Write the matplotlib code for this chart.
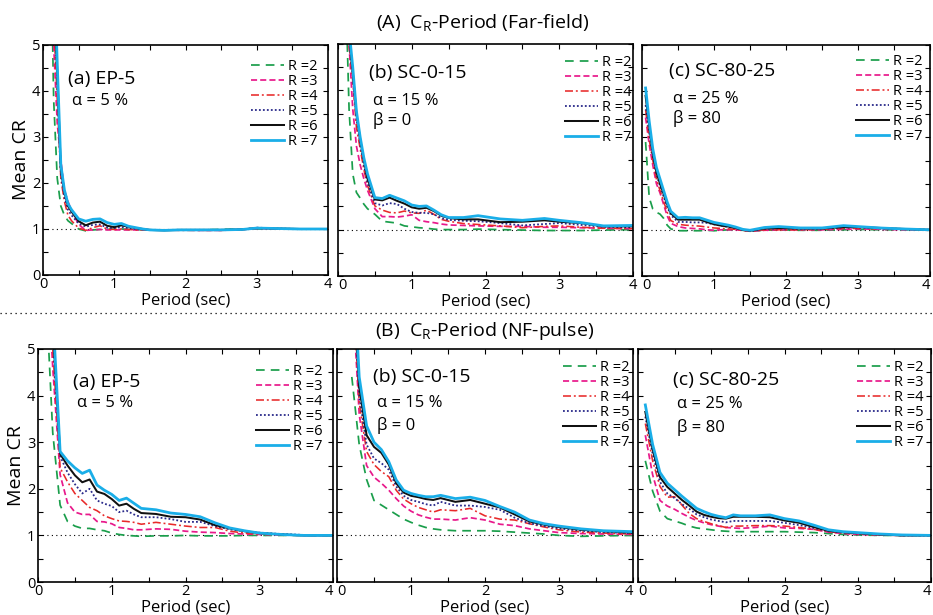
import numpy as np
import matplotlib
matplotlib.use("Agg")
import matplotlib.pyplot as plt
from matplotlib.ticker import MultipleLocator
from matplotlib.lines import Line2D

plt.rcParams['font.family'] = ['Open Sans', 'DejaVu Sans']
plt.rcParams['mathtext.fontset'] = 'custom'
plt.rcParams['mathtext.rm'] = 'Open Sans'

# ---------------- data ----------------
r_labels = ["R =2", "R =3", "R =4", "R =5", "R =6", "R =7"]

period_ff = [0.05, 0.1, 0.15, 0.2, 0.25, 0.3, 0.35, 0.4, 0.5, 0.6, 0.7, 0.8, 0.9, 1.0,
             1.1, 1.2, 1.3, 1.4, 1.5, 1.7, 1.9, 2.2, 2.5, 2.8, 3.0, 3.3, 3.6, 4.0]
period_nf = [0.1, 0.2, 0.3, 0.4, 0.5, 0.6, 0.7, 0.8, 0.9, 1.0, 1.1, 1.2, 1.3, 1.4,
             1.6, 1.8, 2.0, 2.2, 2.4, 2.6, 2.8, 3.0, 3.3, 3.6, 4.0]

# Far-field, (a) EP-5
ff_ep5_R2 = [10, 8, 3.8, 2.1, 1.5, 1.3, 1.18, 1.12, 1.0, 0.96, 0.98, 0.99, 0.99, 1.0, 1.0, 0.99, 0.99, 0.98, 0.98, 0.98, 0.98, 0.98, 0.99, 1.0, 1.0, 1.0, 1.0, 1.0]
ff_ep5_R3 = [12, 9, 5.0, 3.3, 2.5, 1.85, 1.6, 1.4, 1.1, 0.97, 0.98, 0.99, 0.98, 0.98, 0.98, 0.98, 0.98, 0.98, 0.98, 0.98, 0.98, 0.97, 0.97, 0.99, 1.01, 1.0, 1.0, 1.0]
ff_ep5_R4 = [12, 9, 5.5, 3.8, 2.1, 1.6, 1.3, 1.18, 1.02, 0.97, 1.03, 1.07, 1.0, 0.99, 1.0, 0.99, 0.98, 0.98, 0.98, 0.98, 0.97, 0.97, 0.97, 0.99, 1.02, 1.0, 1.0, 1.0]
ff_ep5_R5 = [12, 9, 6.0, 4.2, 2.2, 1.7, 1.42, 1.3, 1.12, 1.05, 1.09, 1.1, 1.03, 1.02, 1.04, 1.02, 1.0, 0.99, 0.98, 0.98, 0.98, 0.98, 0.98, 0.99, 1.03, 1.01, 1.0, 1.0]
ff_ep5_R6 = [12, 9, 6.5, 4.4, 2.3, 1.8, 1.5, 1.38, 1.17, 1.08, 1.14, 1.16, 1.07, 1.04, 1.08, 1.05, 1.02, 1.0, 0.98, 0.97, 0.98, 0.98, 0.98, 0.99, 1.02, 1.01, 1.0, 1.0]
ff_ep5_R7 = [12, 9, 7.0, 4.6, 2.4, 1.85, 1.55, 1.42, 1.22, 1.17, 1.21, 1.22, 1.14, 1.1, 1.12, 1.06, 1.03, 1.0, 0.98, 0.97, 0.98, 0.98, 0.98, 0.99, 1.02, 1.01, 1.0, 1.0]

# Far-field, (b) SC-0-15
ff_sc015_R2 = [10, 6.5, 3.6, 2.2, 1.8, 1.68, 1.55, 1.45, 1.33, 1.18, 1.16, 1.14, 1.08, 1.06, 1.04, 1.03, 1.01, 1.0, 1.0, 1.0, 1.01, 1.0, 0.99, 0.98, 0.98, 0.98, 0.99, 1.0]
ff_sc015_R3 = [12, 8.5, 5.0, 3.6, 2.8, 2.4, 2.1, 1.85, 1.45, 1.28, 1.28, 1.27, 1.29, 1.32, 1.2, 1.17, 1.15, 1.12, 1.1, 1.09, 1.08, 1.07, 1.07, 1.05, 1.05, 1.04, 1.03, 1.02]
ff_sc015_R4 = [12, 8.5, 5.0, 4.2, 3.2, 2.75, 2.3, 1.95, 1.51, 1.42, 1.37, 1.36, 1.4, 1.36, 1.35, 1.42, 1.33, 1.22, 1.18, 1.13, 1.11, 1.08, 1.04, 1.07, 1.08, 1.05, 1.03, 1.02]
ff_sc015_R5 = [12, 8.5, 5.1, 4.3, 3.4, 2.85, 2.4, 2.0, 1.57, 1.52, 1.57, 1.55, 1.45, 1.38, 1.36, 1.36, 1.33, 1.25, 1.21, 1.19, 1.18, 1.14, 1.09, 1.12, 1.14, 1.1, 1.06, 1.05]
ff_sc015_R6 = [12, 8.5, 5.2, 4.4, 3.5, 2.95, 2.5, 2.1, 1.65, 1.63, 1.69, 1.62, 1.56, 1.48, 1.45, 1.47, 1.4, 1.3, 1.25, 1.22, 1.22, 1.16, 1.17, 1.2, 1.17, 1.14, 1.07, 1.07]
ff_sc015_R7 = [12, 8.5, 5.3, 4.5, 3.55, 3.0, 2.55, 2.2, 1.69, 1.67, 1.74, 1.68, 1.62, 1.53, 1.5, 1.51, 1.42, 1.32, 1.26, 1.26, 1.3, 1.23, 1.2, 1.24, 1.2, 1.15, 1.08, 1.09]

# Far-field, (c) SC-80-25
ff_sc8025_R2 = [2.9, 1.7, 1.45, 1.38, 1.34, 1.25, 1.1, 1.02, 0.98, 0.98, 0.98, 0.98, 0.99, 0.98, 0.99, 1.0, 1.0, 0.99, 0.97, 0.99, 1.0, 0.99, 0.99, 1.0, 1.01, 1.0, 1.0, 1.0]
ff_sc8025_R3 = [3.43, 2.85, 2.4, 2.0, 1.8, 1.55, 1.3, 1.14, 1.07, 1.04, 1.03, 1.02, 1.0, 0.99, 1.0, 1.0, 1.0, 0.99, 0.97, 0.99, 1.0, 1.0, 1.0, 1.01, 1.02, 1.01, 1.0, 1.0]
ff_sc8025_R4 = [3.6, 2.95, 2.5, 2.1, 1.85, 1.62, 1.38, 1.2, 1.12, 1.1, 1.09, 1.08, 1.06, 1.04, 1.03, 1.02, 1.01, 0.99, 0.97, 1.0, 1.0, 1.0, 1.01, 1.03, 1.03, 1.02, 1.01, 1.0]
ff_sc8025_R5 = [3.7, 3.1, 2.6, 2.2, 1.95, 1.72, 1.5, 1.32, 1.17, 1.17, 1.16, 1.16, 1.15, 1.12, 1.09, 1.06, 1.04, 1.0, 0.97, 1.02, 1.03, 1.02, 1.02, 1.05, 1.05, 1.03, 1.02, 1.0]
ff_sc8025_R6 = [3.9, 3.25, 2.65, 2.25, 2.0, 1.78, 1.55, 1.36, 1.22, 1.22, 1.22, 1.22, 1.17, 1.12, 1.09, 1.07, 1.04, 1.0, 0.98, 1.03, 1.04, 1.03, 1.03, 1.06, 1.06, 1.04, 1.02, 1.0]
ff_sc8025_R7 = [4.07, 3.35, 2.75, 2.35, 2.1, 1.85, 1.6, 1.4, 1.26, 1.27, 1.26, 1.26, 1.21, 1.16, 1.13, 1.1, 1.06, 1.01, 0.99, 1.05, 1.07, 1.04, 1.04, 1.09, 1.07, 1.04, 1.02, 1.0]

# NF-pulse, (a) EP-5
nf_ep5_R2 = [6.5, 3.2, 1.65, 1.3, 1.2, 1.15, 1.15, 1.12, 1.1, 1.05, 1.02, 1.0, 0.99, 0.98, 0.99, 0.99, 1.0, 0.99, 0.99, 0.99, 1.0, 1.0, 1.0, 1.0, 1.0]
nf_ep5_R3 = [7.5, 4.6, 2.3, 1.7, 1.5, 1.45, 1.45, 1.3, 1.29, 1.25, 1.17, 1.15, 1.12, 1.12, 1.14, 1.13, 1.09, 1.07, 1.06, 1.04, 1.03, 1.02, 1.01, 1.0, 1.0]
nf_ep5_R4 = [8.0, 5.0, 2.45, 2.15, 1.9, 1.75, 1.6, 1.53, 1.42, 1.36, 1.31, 1.3, 1.28, 1.24, 1.28, 1.24, 1.2, 1.17, 1.17, 1.09, 1.05, 1.03, 1.02, 1.0, 1.0]
nf_ep5_R5 = [8.5, 5.3, 2.7, 2.35, 2.1, 1.9, 2.0, 1.75, 1.68, 1.63, 1.5, 1.53, 1.45, 1.39, 1.39, 1.35, 1.29, 1.29, 1.2, 1.13, 1.09, 1.06, 1.03, 1.01, 1.0]
nf_ep5_R6 = [9.0, 5.5, 2.75, 2.5, 2.29, 2.14, 2.2, 1.94, 1.89, 1.78, 1.64, 1.68, 1.57, 1.48, 1.46, 1.4, 1.39, 1.34, 1.22, 1.15, 1.09, 1.05, 1.02, 1.0, 1.0]
nf_ep5_R7 = [9.5, 5.8, 2.8, 2.6, 2.45, 2.33, 2.4, 2.08, 1.97, 1.88, 1.75, 1.8, 1.69, 1.58, 1.55, 1.48, 1.45, 1.4, 1.27, 1.16, 1.1, 1.05, 1.02, 1.0, 1.0]

# NF-pulse, (b) SC-0-15
nf_sc015_R2 = [np.nan, 4.4, 2.95, 2.2, 1.75, 1.65, 1.55, 1.45, 1.35, 1.28, 1.22, 1.17, 1.14, 1.12, 1.1, 1.1, 1.1, 1.09, 1.07, 1.05, 1.03, 1.0, 0.98, 0.99, 1.0]
nf_sc015_R3 = [np.nan, 6.5, 3.6, 2.5, 2.25, 2.12, 1.97, 1.79, 1.63, 1.52, 1.44, 1.39, 1.35, 1.35, 1.33, 1.38, 1.33, 1.24, 1.21, 1.14, 1.1, 1.06, 1.04, 1.03, 1.02]
nf_sc015_R4 = [np.nan, 6.8, 3.85, 2.8, 2.52, 2.37, 2.26, 1.97, 1.78, 1.68, 1.6, 1.55, 1.5, 1.55, 1.53, 1.58, 1.42, 1.35, 1.33, 1.25, 1.18, 1.12, 1.07, 1.05, 1.03]
nf_sc015_R5 = [np.nan, 7.0, 4.0, 2.95, 2.65, 2.55, 2.41, 2.05, 1.85, 1.76, 1.72, 1.67, 1.64, 1.72, 1.64, 1.64, 1.61, 1.55, 1.38, 1.26, 1.2, 1.15, 1.1, 1.07, 1.05]
nf_sc015_R6 = [np.nan, 7.2, 4.2, 3.15, 2.9, 2.77, 2.52, 2.12, 1.92, 1.85, 1.82, 1.78, 1.76, 1.8, 1.72, 1.76, 1.68, 1.6, 1.45, 1.3, 1.23, 1.18, 1.12, 1.09, 1.06]
nf_sc015_R7 = [np.nan, 7.5, 4.4, 3.35, 3.0, 2.84, 2.58, 2.19, 1.97, 1.9, 1.86, 1.83, 1.83, 1.86, 1.79, 1.82, 1.75, 1.62, 1.5, 1.33, 1.25, 1.2, 1.14, 1.1, 1.08]

# NF-pulse, (c) SC-80-25
nf_sc8025_R2 = [2.6, 1.95, 1.52, 1.36, 1.31, 1.26, 1.2, 1.16, 1.14, 1.12, 1.1, 1.09, 1.08, 1.08, 1.08, 1.08, 1.08, 1.07, 1.06, 1.04, 1.02, 1.01, 1.0, 1.0, 1.0]
nf_sc8025_R3 = [3.15, 2.3, 1.75, 1.63, 1.56, 1.47, 1.39, 1.32, 1.27, 1.23, 1.2, 1.17, 1.16, 1.15, 1.17, 1.2, 1.16, 1.15, 1.13, 1.07, 1.04, 1.02, 1.01, 1.0, 1.0]
nf_sc8025_R4 = [3.4, 2.6, 2.05, 1.82, 1.83, 1.65, 1.47, 1.36, 1.3, 1.25, 1.21, 1.17, 1.2, 1.2, 1.21, 1.21, 1.2, 1.17, 1.13, 1.08, 1.05, 1.03, 1.01, 1.0, 1.0]
nf_sc8025_R5 = [3.55, 2.75, 2.15, 1.9, 1.8, 1.67, 1.57, 1.45, 1.39, 1.34, 1.31, 1.28, 1.31, 1.31, 1.31, 1.31, 1.27, 1.22, 1.16, 1.09, 1.06, 1.04, 1.02, 1.0, 1.0]
nf_sc8025_R6 = [3.65, 2.85, 2.25, 2.04, 1.9, 1.76, 1.64, 1.51, 1.44, 1.4, 1.37, 1.36, 1.4, 1.4, 1.4, 1.39, 1.32, 1.27, 1.18, 1.1, 1.07, 1.05, 1.02, 1.0, 1.0]
nf_sc8025_R7 = [3.8, 2.95, 2.35, 2.12, 1.98, 1.84, 1.71, 1.58, 1.51, 1.45, 1.41, 1.38, 1.44, 1.42, 1.42, 1.44, 1.36, 1.31, 1.22, 1.12, 1.08, 1.06, 1.03, 1.01, 1.0]

panel_names = ["(a) EP-5", "(b) SC-0-15", "(c) SC-80-25"]
alpha_labels = ["α = 5 %", "α = 15 %", "α = 25 %"]
beta_labels = [None, "β = 0", "β = 80"]
row_titles = [r"(A)  C$_\mathrm{R}$-Period (Far-field)", r"(B)  C$_\mathrm{R}$-Period (NF-pulse)"]

rows = [
    (period_ff, [
        [ff_ep5_R2, ff_ep5_R3, ff_ep5_R4, ff_ep5_R5, ff_ep5_R6, ff_ep5_R7],
        [ff_sc015_R2, ff_sc015_R3, ff_sc015_R4, ff_sc015_R5, ff_sc015_R6, ff_sc015_R7],
        [ff_sc8025_R2, ff_sc8025_R3, ff_sc8025_R4, ff_sc8025_R5, ff_sc8025_R6, ff_sc8025_R7]]),
    (period_nf, [
        [nf_ep5_R2, nf_ep5_R3, nf_ep5_R4, nf_ep5_R5, nf_ep5_R6, nf_ep5_R7],
        [nf_sc015_R2, nf_sc015_R3, nf_sc015_R4, nf_sc015_R5, nf_sc015_R6, nf_sc015_R7],
        [nf_sc8025_R2, nf_sc8025_R3, nf_sc8025_R4, nf_sc8025_R5, nf_sc8025_R6, nf_sc8025_R7]]),
]

# ---------------- styles ----------------
styles = [
    dict(color="#1a9e4b", ls=(0, (5, 3.5)), lw=1.25),
    dict(color="#e8198b", ls=(0, (3.5, 1.8)), lw=1.25),
    dict(color="#e82a2a", ls=(0, (5, 1.8, 1.2, 1.8)), lw=1.15),
    dict(color="#2a2a8a", ls=(0, (1, 1.2)), lw=1.3),
    dict(color="#111111", ls="-", lw=1.45),
    dict(color="#1aaee8", ls="-", lw=2.0),
]

W, H = 933, 615
fig = plt.figure(figsize=(W / 100, H / 100), dpi=100)

def fx(px):
    return px / W

def fy(py):
    return 1 - py / H

# axes boxes in pixels: (left, right, top, bottom)
boxes = [
    [(43, 328, 45, 275), (338, 633, 44, 276), (642, 930, 45, 276)],
    [(38, 333, 349, 582), (337, 633, 349, 582), (638, 931, 349, 582)],
]
# (name x, name y, alpha x, alpha y, beta y) in axes fraction
text_pos = [
    [(0.088, 0.854, 0.102, 0.758, 0.67), (0.106, 0.873, 0.12, 0.756, 0.67), (0.095, 0.887, 0.106, 0.768, 0.68)],
    [(0.12, 0.86, 0.131, 0.77, 0.67), (0.123, 0.881, 0.134, 0.77, 0.67), (0.12, 0.867, 0.132, 0.766, 0.663)],
]
legend_anchor = [
    [(0.965, 0.94), (0.997, 0.953), (0.976, 0.962)],
    [(0.966, 0.936), (0.99, 0.954), (0.976, 0.954)],
]

for r, (period, panels) in enumerate(rows):
    for c, series in enumerate(panels):
        l, rr, t, b = boxes[r][c]
        ax = fig.add_axes([fx(l), fy(b), fx(rr - l), (b - t) / H])
        ax.plot([0, 4], [1, 1], color="black", ls=(0, (1, 3)), lw=0.8)
        for k, vals in enumerate(series):
            ax.plot(period, vals, label=r_labels[k], **styles[k])
        ax.set_xlim(0, 4)
        ax.set_ylim(0, 5)
        ax.xaxis.set_major_locator(MultipleLocator(1))
        ax.xaxis.set_minor_locator(MultipleLocator(0.5))
        ax.yaxis.set_major_locator(MultipleLocator(1))
        ax.yaxis.set_minor_locator(MultipleLocator(0.5))
        ax.tick_params(which="both", direction="in", top=True, right=True,
                       length=3.5, width=0.8, labelsize=10.5, pad=2)
        ax.tick_params(axis="x", pad=1.5)
        for sp in ax.spines.values():
            sp.set_linewidth(1.2)
        if c == 0:
            ax.set_ylabel("Mean CR", fontsize=14, labelpad=1)
        else:
            ax.set_yticklabels([])
        ax.set_xlabel("Period (sec)", fontsize=12, labelpad=0)
        # tick label alignment at the panel joints
        locs = ax.xaxis.get_majorticklocs()
        ticks = ax.xaxis.get_major_ticks(len(locs))
        for tk, loc in zip(ticks, locs):
            if abs(loc) < 1e-9 and c > 0:
                tk.label1.set_horizontalalignment("left")
            if abs(loc - 4) < 1e-9 and (r == 1 or c == 2):
                tk.label1.set_horizontalalignment("right")
        tp = text_pos[r][c]
        ax.text(tp[0], tp[1], panel_names[c], transform=ax.transAxes,
                fontsize=14, va="center", ha="left")
        ax.text(tp[2], tp[3], alpha_labels[c], transform=ax.transAxes,
                fontsize=12, va="center", ha="left")
        if beta_labels[c]:
            ax.text(tp[2], tp[4], beta_labels[c], transform=ax.transAxes,
                    fontsize=12, va="center", ha="left")
        ax.legend(loc="upper right", bbox_to_anchor=legend_anchor[r][c], frameon=False,
                  fontsize=10.5, handlelength=2.25, handletextpad=0.3,
                  labelspacing=0.0, borderpad=0, borderaxespad=0)

fig.text(fx(483), fy(29), row_titles[0], ha="center", va="baseline", fontsize=14)
fig.text(fx(485), fy(336), row_titles[1], ha="center", va="baseline", fontsize=14)
fig.add_artist(Line2D([0, 1], [fy(313), fy(313)], transform=fig.transFigure,
                      color="black", ls=(0, (1, 3)), lw=0.9))

fig.savefig("out.png", dpi=100)
